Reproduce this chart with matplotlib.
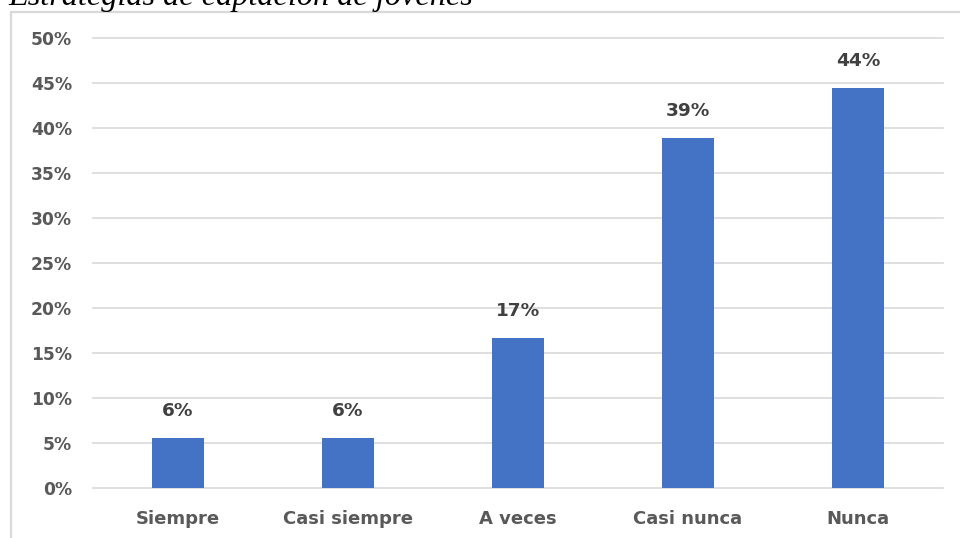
import matplotlib.pyplot as plt
from matplotlib.patches import Rectangle
from matplotlib.ticker import PercentFormatter, MultipleLocator

categorias = ["Siempre", "Casi siempre", "A veces", "Casi nunca", "Nunca"]
porcentajes = [5.6, 5.6, 16.7, 38.9, 44.4]
etiquetas = ["6%", "6%", "17%", "39%", "44%"]

W, H = 960, 538
fig = plt.figure(figsize=(W / 100, H / 100), dpi=100)

# marco del grafico
fig.patches.append(Rectangle((11 / W, -0.1), 1.1, 1.1 - 11.5 / H,
                             transform=fig.transFigure, fill=False,
                             edgecolor="#d9d9d9", linewidth=1.6))

fig.text(8 / W, 1 - 5 / H, "Estrategias de captación de jóvenes",
         family="Liberation Serif", fontstyle="italic", fontsize=23.2,
         va="baseline", ha="left", color="black")

ax = fig.add_axes([93 / W, (H - 488) / H, 850 / W, 450 / H])
x = range(len(categorias))
ax.bar(x, porcentajes, width=0.31, color="#4472C4", zorder=3)

for xi, v, t in zip(x, porcentajes, etiquetas):
    ax.annotate(t, (xi, v), xytext=(0, 13), textcoords="offset points",
                ha="center", va="bottom", fontsize=13.3, fontweight="bold",
                color="#404040")

ax.set_xlim(-0.5, len(categorias) - 0.5)
ax.set_ylim(0, 50)
ax.yaxis.set_major_locator(MultipleLocator(5))
ax.yaxis.set_major_formatter(PercentFormatter(decimals=0))
ax.set_xticks(list(x))
ax.set_xticklabels(categorias)
ax.grid(axis="y", color="#d9d9d9", linewidth=1.2, zorder=0)
for gl in ax.get_ygridlines():
    gl.set_clip_on(False)
ax.tick_params(axis="y", length=0, pad=15, labelsize=12.3, labelcolor="#595959")
ax.tick_params(axis="x", length=0, pad=16, labelsize=13, labelcolor="#595959")
for lbl in ax.get_xticklabels() + ax.get_yticklabels():
    lbl.set_fontweight("bold")
for s in ax.spines.values():
    s.set_visible(False)

fig.savefig("out.png", dpi=100)
